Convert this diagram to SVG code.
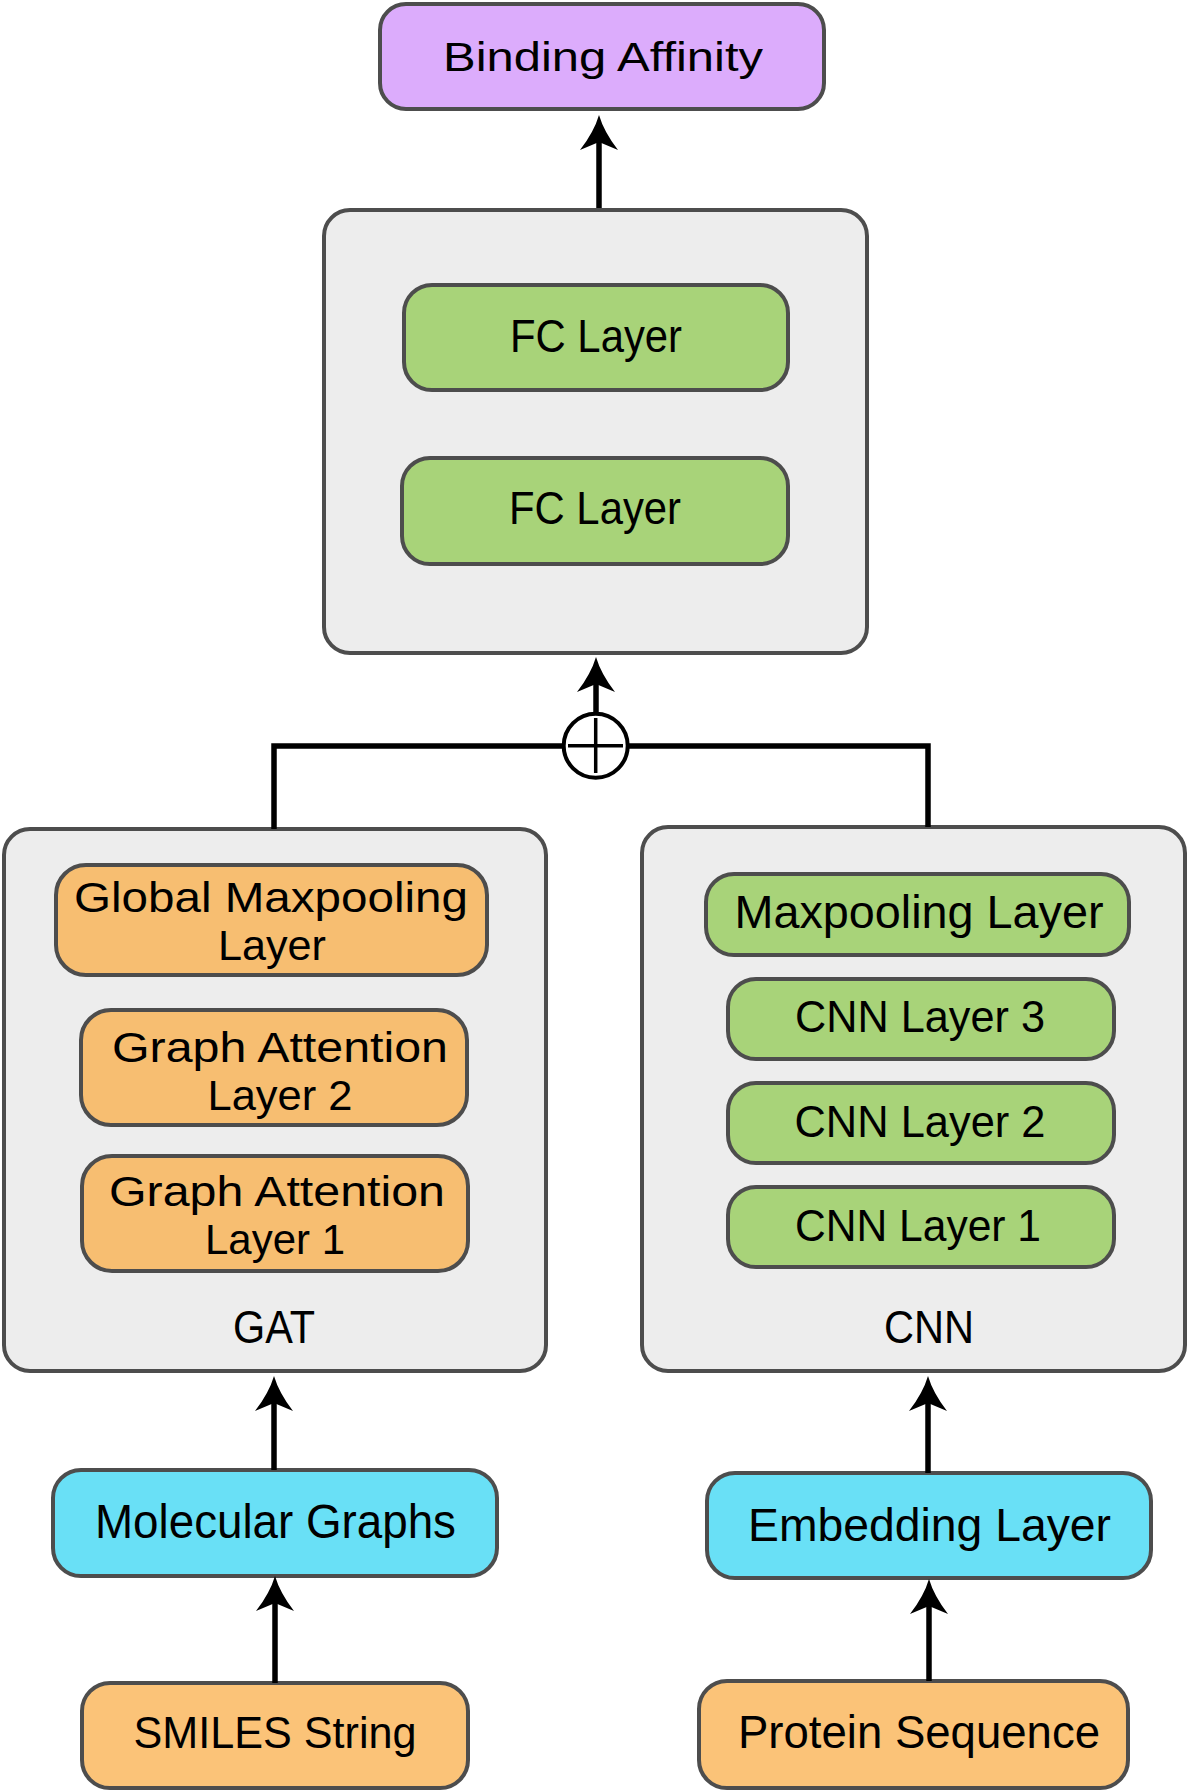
<svg xmlns="http://www.w3.org/2000/svg" width="1189" height="1792" viewBox="0 0 1189 1792">
<style>
  .box{stroke:#4d4d4d;stroke-width:4}
  .outer{fill:#ededed}
  .purple{fill:#dcacfc}
  .green{fill:#a8d379}
  .orange{fill:#f7be71}
  .orange2{fill:#fbc378}
  .cyan{fill:#69e0f6}
  text{font-family:"Liberation Sans",Arial,sans-serif;fill:#000;text-anchor:middle}
  .t{font-size:47px}
  .two{font-size:42px}
  .conn{fill:none;stroke:#000;stroke-width:5.5;stroke-linejoin:miter;stroke-linecap:butt}
</style>
<defs>
  <marker id="ah" markerUnits="userSpaceOnUse" markerWidth="60" markerHeight="60" refX="8" refY="0" orient="auto" viewBox="-5 -30 60 60" overflow="visible">
    <path d="M35,0 Q18,-5 0,-19 L8,0 L0,19 Q18,5 35,0 Z" fill="#000"/>
  </marker>
</defs>
<rect width="1189" height="1792" fill="#fff"/>

<g id="binding-affinity">
  <rect class="box purple" x="380" y="4" width="444" height="105" rx="26"/>
  <text x="603" y="71" font-size="41" textLength="320" lengthAdjust="spacingAndGlyphs">Binding Affinity</text>
</g>

<g id="fc-block">
  <rect class="box outer" x="324" y="210" width="543" height="443" rx="26"/>
</g>
<g id="fc-layer-1">
  <rect class="box green" x="404" y="285" width="384" height="105" rx="28"/>
  <text class="t" x="596" y="352" textLength="172" lengthAdjust="spacingAndGlyphs">FC Layer</text>
</g>
<g id="fc-layer-2">
  <rect class="box green" x="402" y="458" width="386" height="106" rx="28"/>
  <text class="t" x="595" y="524" textLength="172" lengthAdjust="spacingAndGlyphs">FC Layer</text>
</g>

<g id="gat">
  <rect class="box outer" x="4" y="829" width="542" height="542" rx="26"/>
  <text x="274" y="1343" font-size="46" textLength="82" lengthAdjust="spacingAndGlyphs">GAT</text>
</g>
<g id="global-maxpooling">
  <rect class="box orange" x="56" y="865" width="431" height="110" rx="30"/>
  <text class="two" x="271" y="912" textLength="394" lengthAdjust="spacingAndGlyphs">Global Maxpooling</text>
  <text class="two" x="272" y="960" textLength="108" lengthAdjust="spacingAndGlyphs">Layer</text>
</g>
<g id="graph-attention-2">
  <rect class="box orange" x="81" y="1010" width="386" height="115" rx="30"/>
  <text class="two" x="280" y="1062" textLength="336" lengthAdjust="spacingAndGlyphs">Graph Attention</text>
  <text class="two" x="280" y="1110" textLength="145" lengthAdjust="spacingAndGlyphs">Layer 2</text>
</g>
<g id="graph-attention-1">
  <rect class="box orange" x="82" y="1156" width="386" height="115" rx="30"/>
  <text class="two" x="277" y="1206" textLength="336" lengthAdjust="spacingAndGlyphs">Graph Attention</text>
  <text class="two" x="275" y="1254" textLength="140" lengthAdjust="spacingAndGlyphs">Layer 1</text>
</g>

<g id="cnn">
  <rect class="box outer" x="642" y="827" width="543" height="544" rx="26"/>
  <text x="929" y="1343" font-size="46" textLength="90" lengthAdjust="spacingAndGlyphs">CNN</text>
</g>
<g id="maxpooling">
  <rect class="box green" x="706" y="874" width="423" height="81" rx="28"/>
  <text x="919" y="928" font-size="46" textLength="369" lengthAdjust="spacingAndGlyphs">Maxpooling Layer</text>
</g>
<g id="cnn-layer-3">
  <rect class="box green" x="728" y="979" width="386" height="80" rx="28"/>
  <text x="920" y="1032" font-size="45" textLength="250" lengthAdjust="spacingAndGlyphs">CNN Layer 3</text>
</g>
<g id="cnn-layer-2">
  <rect class="box green" x="728" y="1083" width="386" height="80" rx="28"/>
  <text x="920" y="1137" font-size="45" textLength="251" lengthAdjust="spacingAndGlyphs">CNN Layer 2</text>
</g>
<g id="cnn-layer-1">
  <rect class="box green" x="728" y="1187" width="386" height="80" rx="28"/>
  <text x="918" y="1241" font-size="45" textLength="246" lengthAdjust="spacingAndGlyphs">CNN Layer 1</text>
</g>

<g id="molecular-graphs">
  <rect class="box cyan" x="53" y="1470" width="444" height="106" rx="28"/>
  <text x="275.5" y="1538" font-size="48" textLength="361" lengthAdjust="spacingAndGlyphs">Molecular Graphs</text>
</g>
<g id="smiles-string">
  <rect class="box orange2" x="82" y="1683" width="386" height="105" rx="28"/>
  <text x="275" y="1748" font-size="45" textLength="283" lengthAdjust="spacingAndGlyphs">SMILES String</text>
</g>
<g id="embedding-layer">
  <rect class="box cyan" x="707" y="1473" width="444" height="105" rx="28"/>
  <text x="929.5" y="1541" font-size="47" textLength="363" lengthAdjust="spacingAndGlyphs">Embedding Layer</text>
</g>
<g id="protein-sequence">
  <rect class="box orange2" x="699" y="1681" width="429" height="107" rx="28"/>
  <text x="919" y="1748" font-size="46" textLength="362" lengthAdjust="spacingAndGlyphs">Protein Sequence</text>
</g>

<g id="concat">
  <circle cx="595.7" cy="745.7" r="32" fill="#fff" stroke="#000" stroke-width="4"/>
  <path d="M568,745.7 H623 M595.7,718 V773" stroke="#000" stroke-width="3.5" fill="none"/>
</g>

<g id="connectors">
  <path class="conn" d="M599,208 V142" marker-end="url(#ah)"/>
  <path class="conn" d="M596,713 V684" marker-end="url(#ah)"/>
  <path class="conn" d="M274,829 V746 H564"/>
  <path class="conn" d="M928,827 V746 H628"/>
  <path class="conn" d="M274,1470 V1403" marker-end="url(#ah)"/>
  <path class="conn" d="M275,1683 V1603" marker-end="url(#ah)"/>
  <path class="conn" d="M928,1473 V1403" marker-end="url(#ah)"/>
  <path class="conn" d="M929,1681 V1606" marker-end="url(#ah)"/>
</g>
</svg>
